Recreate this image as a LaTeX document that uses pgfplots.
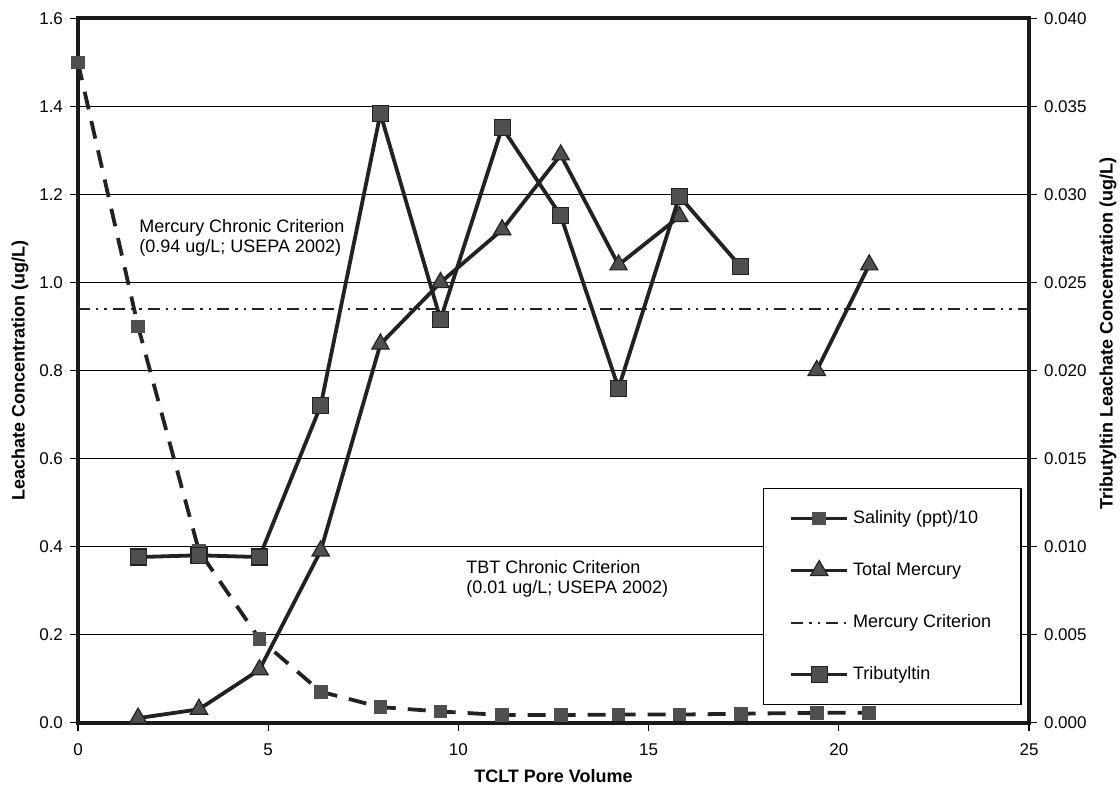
\documentclass[border=0pt]{standalone}
\usepackage{pgfplots}
\pgfplotsset{compat=1.18}
\usepackage{fontspec}
\setmainfont{Liberation Sans}
\definecolor{ln}{HTML}{222222}
\definecolor{mk}{HTML}{4F4F4F}
\definecolor{fr}{HTML}{1A1A1A}
\begin{document}
\begin{tikzpicture}
\pgfplotsset{
  base/.style={
    at={(0,0)}, anchor=south west,
    width=475.5pt, height=352pt, scale only axis,
    xmin=0, xmax=25,
    font=\fontsize{8.5}{10}\selectfont,
    tick align=outside, major tick length=4pt,
    tick style={black, line width=0.6pt},
    /pgf/number format/assume math mode=true,
    clip=false,
  },
  legend image code/.code={
    \draw[mark repeat=2,mark phase=2,#1] plot coordinates {(0pt,0pt) (14pt,0pt) (28pt,0pt)};
  },
}
\begin{axis}[base, name=main,
  ymin=0, ymax=1.6,
  xtick={0,5,10,15,20,25},
  ytick={0,0.2,0.4,0.6,0.8,1.0,1.2,1.4,1.6},
  xtick pos=bottom, ytick pos=left,
  ymajorgrids, grid style={black, line width=0.6pt},
  axis line style={fr, line width=2pt},
  yticklabel style={/pgf/number format/fixed, /pgf/number format/fixed zerofill, /pgf/number format/precision=1},
  xticklabel style={yshift=-3pt},
  unbounded coords=jump,
]
\addplot[ln, line width=1pt, dash pattern=on 6pt off 3pt on 1.2pt off 3pt on 1.2pt off 3pt] coordinates {(0,0.94) (25,0.94)};
\addplot[ln, line width=1.9pt, dash pattern=on 9pt off 6pt, mark=square*, mark size=2.5pt, mark options={solid, fill=mk, draw=mk}] coordinates {
(0,1.5) (1.58,0.9) (3.18,0.39) (4.77,0.19) (6.38,0.07) (7.95,0.035) (9.53,0.025) (11.15,0.017) (12.69,0.017) (14.21,0.018) (15.81,0.018) (17.42,0.02) (19.42,0.022) (20.8,0.022)};
\addplot[ln, line width=1.9pt, mark=triangle*, mark size=5pt, mark options={fill=mk, draw=ln, line width=0.6pt}] coordinates {
(1.58,0.01) (3.18,0.03) (4.77,0.12) (6.38,0.39) (7.95,0.86) (9.53,1.0) (11.15,1.12) (12.69,1.29) (14.21,1.04) (15.81,1.15) (17.42,nan) (19.42,0.80) (20.8,1.04)};
\node[anchor=north west, inner sep=0pt, align=left, font=\fontsize{9}{10}\selectfont] at (axis cs:1.6,1.145) {Mercury Chronic Criterion\\(0.94 ug/L; USEPA 2002)};
\node[anchor=north west, inner sep=0pt, align=left, font=\fontsize{9}{10}\selectfont] at (axis cs:10.2,0.37) {TBT Chronic Criterion\\(0.01 ug/L; USEPA 2002)};
\end{axis}
\begin{axis}[base,
  ymin=0, ymax=0.04,
  axis x line=none, axis y line*=right,
  ytick={0,0.005,0.01,0.015,0.02,0.025,0.03,0.035,0.04},
  ytick pos=right,
  scaled y ticks=false,
  y axis line style={fr, line width=2pt},
  yticklabel style={/pgf/number format/fixed, /pgf/number format/fixed zerofill, /pgf/number format/precision=3},
  legend style={at={(rel axis cs:0.9926,0.3336)}, anchor=north east, draw=black, line width=0.8pt,
    font=\fontsize{9}{10}\selectfont, row sep=14pt, inner xsep=13pt, inner ysep=9pt},
  legend cell align=left,
]
\addlegendimage{ln, line width=1.9pt, mark=square*, mark size=2.5pt, mark options={fill=mk, draw=mk}}
\addlegendentry{Salinity (ppt)/10}
\addlegendimage{ln, line width=1.9pt, mark=triangle*, mark size=5pt, mark options={fill=mk, draw=ln, line width=0.6pt}}
\addlegendentry{Total Mercury}
\addlegendimage{ln, line width=1pt, dash pattern=on 6pt off 3pt on 1.2pt off 3pt on 1.2pt off 3pt}
\addlegendentry{Mercury Criterion}
\addplot[ln, line width=1.9pt, mark=square*, mark size=4pt, mark options={fill=mk, draw=ln, line width=0.6pt}] coordinates {
(1.58,0.0094) (3.18,0.0095) (4.77,0.0094) (6.38,0.018) (7.95,0.0346) (9.53,0.0229) (11.15,0.0338) (12.69,0.0288) (14.21,0.0190) (15.81,0.0299) (17.42,0.0259)};
\addlegendentry{Tributyltin}
\end{axis}
\node[rotate=90, font=\bfseries\fontsize{9}{11}\selectfont] at ([xshift=-29pt]main.west) {Leachate Concentration (ug/L)};
\node[rotate=90, font=\bfseries\fontsize{9}{11}\selectfont] at ([shift={(39.5pt,194.5pt)}]main.south east) {Tributyltin Leachate Concentration (ug/L)};
\node[font=\bfseries\fontsize{9}{11}\selectfont] at ([yshift=-27pt]main.south) {TCLT Pore Volume};
\pgfresetboundingbox
\path ([shift={(-39pt,-35.5pt)}]main.south west) rectangle ([shift={(45.5pt,9.25pt)}]main.north east);
\end{tikzpicture}
\end{document}
